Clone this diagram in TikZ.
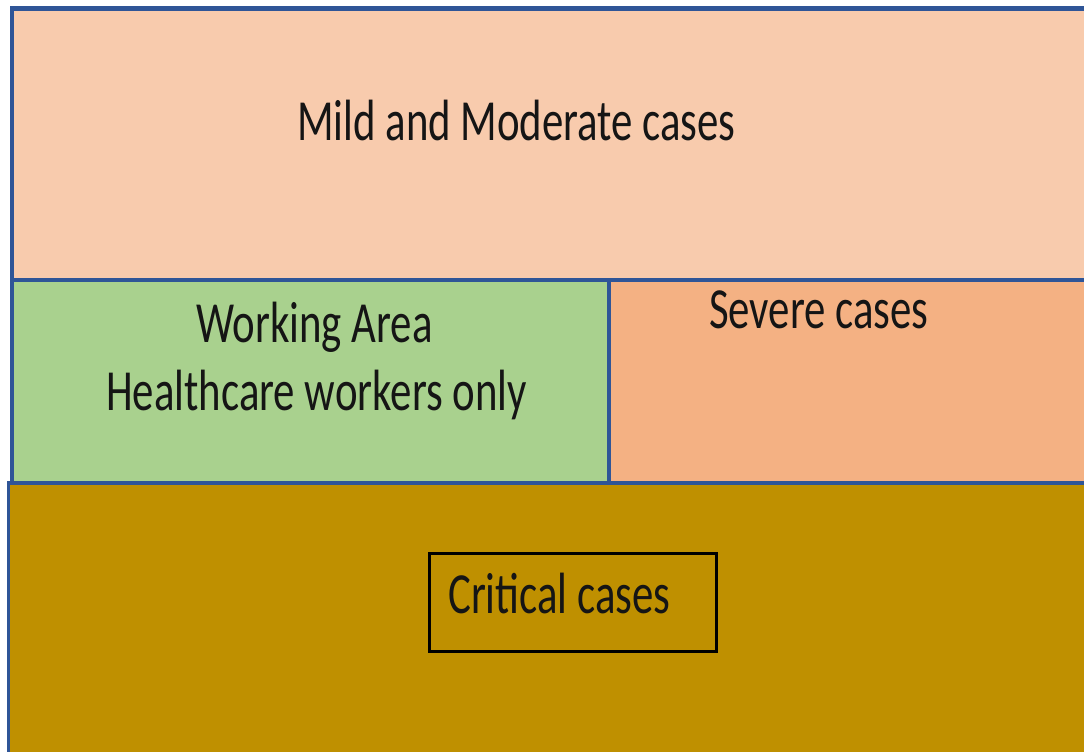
\documentclass[tikz,border=0pt]{standalone}
\usepackage{fontspec}
\setmainfont{Carlito}
\definecolor{peach}{HTML}{F8CBAD}
\definecolor{sev}{HTML}{F4B183}
\definecolor{grn}{HTML}{A9D18E}
\definecolor{gold}{HTML}{BF9000}
\definecolor{bord}{HTML}{2F5597}
\definecolor{ink}{HTML}{151515}
\newcommand{\tallword}[1]{\scalebox{1}[1.36]{#1}}
\tikzset{
  region/.style={draw=bord, line width=4.8pt},
  lbl/.style={anchor=base west, inner sep=0pt, text=ink, font=\fontsize{42.8}{50}\selectfont},
}
\begin{document}
\begin{tikzpicture}[x=1pt,y=-1pt]
\useasboundingbox (0,0) rectangle (1084,752);
\begin{scope}
\clip (0,0) rectangle (1084,752);
\fill[white] (0,0) rectangle (1084,752);
% top region
\filldraw[region, fill=peach] (12,8.5) rectangle (1100,280);
% working area
\filldraw[region, fill=grn] (12,280) rectangle (609,483);
% severe
\filldraw[region, fill=sev] (609,280) rectangle (1100,483);
% critical region
\filldraw[region, fill=gold, line width=3.5pt] (8.5,483) rectangle (1100,770);
\draw[bord, line width=4.8pt] (8.5,483) -- (1100,483);
\end{scope}
\node[draw=black, line width=3pt, minimum width=287pt, minimum height=98pt, inner sep=0pt, anchor=north west] (critbox) at (427.5,551.5) {};
\node[lbl] (mild) at (297,140) {\tallword{Mild and Moderate cases}};
\node[lbl] (work) at (196,342) {\tallword{Working Area}};
\node[lbl] (hcw) at (106,410) {\tallword{Healthcare workers only}};
\node[lbl] (severe) at (709,328) {\tallword{Severe cases}};
\node[lbl] (crit) at (448,613) {\tallword{Critical cases}};
\end{tikzpicture}
\end{document}
